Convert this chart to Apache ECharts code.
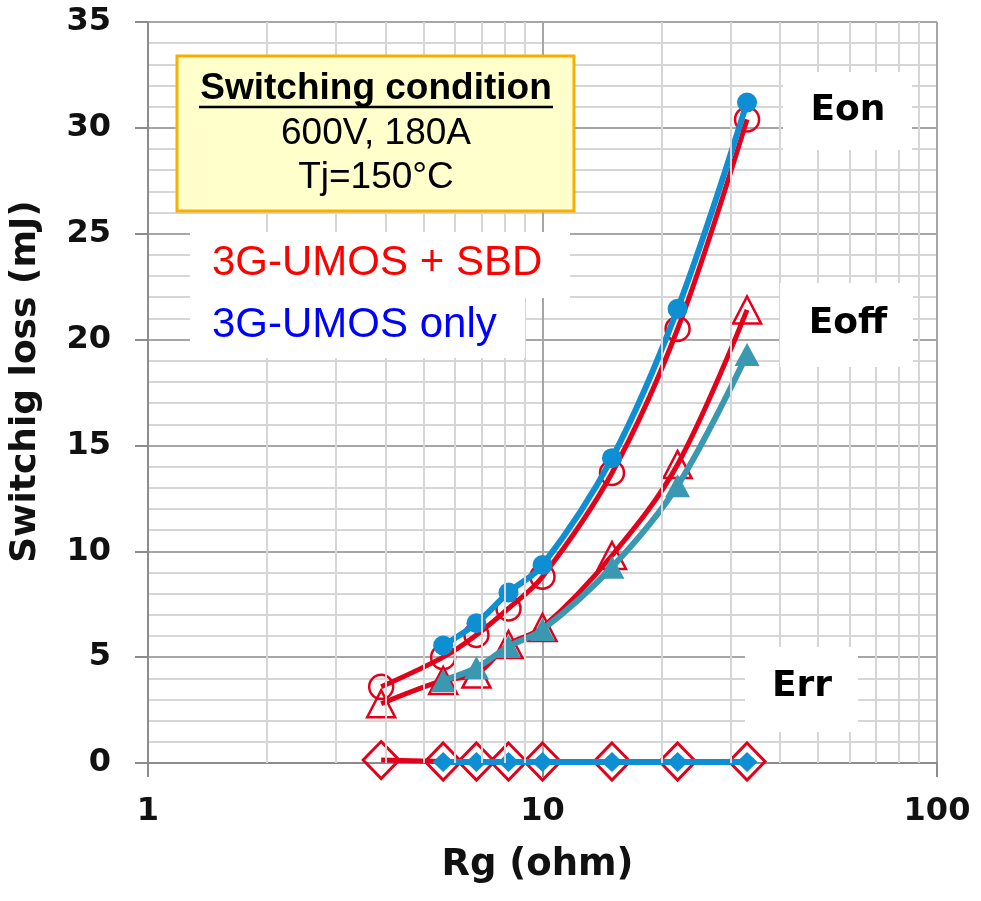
<!DOCTYPE html>
<html>
<head>
<meta charset="utf-8">
<script src="https://cdn.jsdelivr.net/npm/echarts@6/dist/echarts.min.js"></script>
<style>
html,body{margin:0;padding:0;background:#fff;}
#chart{width:981px;height:901px;}
</style>
</head>
<body>
<div id="chart"></div>
<script>
// ---- data ----
const rg = [3.9, 5.6, 6.8, 8.2, 10, 15, 22, 33];
const eonSbd   = [3.6, 5.0, 6.05, 7.3, 8.8, 13.7, 20.5, 30.4];
const eonOnly  = [null, 5.55, 6.6, 8.05, 9.35, 14.4, 21.45, 31.2];
const eoffSbd  = [2.8, 3.9, 4.2, 5.6, 6.4, 9.8, 14.1, 21.4];
const eoffOnly = [null, 3.9, 4.5, 5.5, 6.3, 9.25, 13.1, 19.3];
const errSbd   = [0.14, 0.07, 0.07, 0.07, 0.07, 0.07, 0.07, 0.07];
const errOnly  = [null, 0.05, 0.05, 0.05, 0.05, 0.05, 0.05, 0.05];
const xTicks = [1, 10, 100];
const minorX = [2, 3, 4, 5, 6, 7, 8, 9, 20, 30, 40, 50, 60, 70, 80, 90];
const yTicks = [0, 5, 10, 15, 20, 25, 30, 35];

const RED = '#e3001b';
const BLUE = '#0e8fd3';
const TEAL = '#3b98b1';

function pairs(vals) {
  const out = [];
  rg.forEach((x, i) => { if (vals[i] !== null) out.push([x, vals[i]]); });
  return out;
}

const chart = echarts.init(document.getElementById('chart'), null, {renderer: 'canvas'});

const hollow = (color, bw) => ({color: 'rgba(0,0,0,0)', borderColor: color, borderWidth: bw});

const option = {
  backgroundColor: '#fff',
  animation: false,
  grid: {left: 148, right: 44, top: 22, bottom: 138, containLabel: false, outerBoundsMode: 'none'},
  xAxis: {
    type: 'log', logBase: 10, min: xTicks[0], max: xTicks[xTicks.length - 1],
    name: 'Rg (ohm)', nameLocation: 'middle', nameGap: 84,
    nameTextStyle: {fontFamily: 'DejaVu Sans', fontWeight: 'bold', fontSize: 37, color: '#111', padding: [0, 10, 0, 0]},
    axisLine: {show: true, lineStyle: {color: '#8c8c8c', width: 2}},
    axisTick: {show: true, length: 14, inside: false, lineStyle: {color: '#8c8c8c', width: 2}},
    axisLabel: {
      margin: 33, fontFamily: 'DejaVu Sans', fontWeight: 'bold', fontSize: 32, color: '#111',
      formatter: v => (xTicks.indexOf(Math.round(v)) >= 0 ? String(Math.round(v)) : '')
    },
    splitLine: {show: true, lineStyle: {color: '#a6a6a6', width: 2}}
  },
  yAxis: {
    type: 'value', min: yTicks[0], max: yTicks[yTicks.length - 1], interval: 5,
    name: 'Switchig loss (mJ)', nameLocation: 'middle', nameGap: 104, nameRotate: 90,
    nameTextStyle: {fontFamily: 'DejaVu Sans', fontWeight: 'bold', fontSize: 36, color: '#111', padding: [0, 0, 0, 22]},
    axisLine: {show: true, lineStyle: {color: '#8c8c8c', width: 2}},
    axisTick: {show: true, length: 13, inside: false, lineStyle: {color: '#8c8c8c', width: 2}},
    axisLabel: {margin: 37, fontFamily: 'DejaVu Sans', fontWeight: 'bold', fontSize: 32, color: '#111'},
    splitLine: {show: true, lineStyle: {color: '#a6a6a6', width: 2}},
    minorTick: {show: false, splitNumber: 5},
    minorSplitLine: {show: true, lineStyle: {color: '#d6d6d6', width: 2}}
  },
  series: [
    {
      type: 'line', data: [], z: 1, silent: true, symbol: 'none',
      markLine: {
        silent: true, symbol: 'none', label: {show: false}, animation: false,
        lineStyle: {color: '#d6d6d6', width: 2, type: 'solid'},
        emphasis: {disabled: true},
        data: minorX.map(v => ({xAxis: v}))
      }
    },
    // Err
    {
      name: 'Err SBD', type: 'line', data: pairs(errSbd), z: 3,
      lineStyle: {color: RED, width: 5}, symbol: 'diamond', symbolSize: [36, 37],
      itemStyle: hollow(RED, 3)
    },
    {
      name: 'Err only', type: 'line', data: pairs(errOnly), z: 4,
      lineStyle: {color: BLUE, width: 6}, symbol: 'diamond', symbolSize: [21, 20],
      itemStyle: {color: BLUE}
    },
    // Eoff
    {
      name: 'Eoff SBD', type: 'line', data: pairs(eoffSbd), z: 3, smooth: 0.35,
      lineStyle: {color: RED, width: 5}, symbol: 'triangle', symbolSize: [28, 27],
      itemStyle: hollow(RED, 2.5)
    },
    {
      name: 'Eoff only', type: 'line', data: pairs(eoffOnly), z: 4, smooth: 0.35,
      lineStyle: {color: TEAL, width: 6}, symbol: 'triangle', symbolSize: [25, 23],
      itemStyle: {color: TEAL}
    },
    // Eon
    {
      name: 'Eon SBD', type: 'line', data: pairs(eonSbd), z: 3, smooth: 0.35,
      lineStyle: {color: RED, width: 5}, symbol: 'circle', symbolSize: 24,
      itemStyle: hollow(RED, 2.5)
    },
    {
      name: 'Eon only', type: 'line', data: pairs(eonOnly), z: 4, smooth: 0.35,
      lineStyle: {color: BLUE, width: 6}, symbol: 'circle', symbolSize: 20,
      itemStyle: {color: BLUE}
    }
  ],
  graphic: [
    // switching condition box
    {type: 'rect', z: 20, shape: {x: 177, y: 56, width: 397, height: 155},
     style: {fill: '#ffffcc', stroke: '#f5b000', lineWidth: 3}},
    {type: 'text', z: 21, x: 376, y: 89,
     style: {text: 'Switching condition', fill: '#000', font: 'bold 37px "Liberation Sans", Arial, sans-serif',
             textAlign: 'center', textVerticalAlign: 'middle', align: 'center', verticalAlign: 'middle'}},
    {type: 'line', z: 21, shape: {x1: 199, y1: 107, x2: 553, y2: 107}, style: {stroke: '#000', lineWidth: 2.5}},
    {type: 'text', z: 21, x: 376, y: 134,
     style: {text: '600V, 180A', fill: '#000', font: '37px "Liberation Sans", Arial, sans-serif',
             textAlign: 'center', textVerticalAlign: 'middle', align: 'center', verticalAlign: 'middle'}},
    {type: 'text', z: 21, x: 376, y: 178,
     style: {text: 'Tj=150°C', fill: '#000', font: '37px "Liberation Sans", Arial, sans-serif',
             textAlign: 'center', textVerticalAlign: 'middle', align: 'center', verticalAlign: 'middle'}},
    // series legend boxes
    {type: 'rect', z: 20, shape: {x: 190, y: 232, width: 380, height: 66}, style: {fill: '#fff'}},
    {type: 'rect', z: 20, shape: {x: 190, y: 298, width: 335, height: 60}, style: {fill: '#fff'}},
    {type: 'text', z: 21, x: 212, y: 263,
     style: {text: '3G-UMOS + SBD', fill: '#ff0000', font: '42px "Liberation Sans", Arial, sans-serif',
             textAlign: 'left', textVerticalAlign: 'middle', align: 'left', verticalAlign: 'middle'}},
    {type: 'text', z: 21, x: 212, y: 325,
     style: {text: '3G-UMOS only', fill: '#0000ff', font: '42px "Liberation Sans", Arial, sans-serif',
             textAlign: 'left', textVerticalAlign: 'middle', align: 'left', verticalAlign: 'middle'}},
    // curve labels
    {type: 'rect', z: 20, shape: {x: 783, y: 72, width: 129, height: 78}, style: {fill: '#fff'}},
    {type: 'text', z: 21, x: 848, y: 111,
     style: {text: 'Eon', fill: '#000', font: 'bold 36px "DejaVu Sans", sans-serif',
             textAlign: 'center', textVerticalAlign: 'middle', align: 'center', verticalAlign: 'middle'}},
    {type: 'rect', z: 20, shape: {x: 780, y: 283, width: 133, height: 84}, style: {fill: '#fff'}},
    {type: 'text', z: 21, x: 848, y: 324,
     style: {text: 'Eoff', fill: '#000', font: 'bold 36px "DejaVu Sans", sans-serif',
             textAlign: 'center', textVerticalAlign: 'middle', align: 'center', verticalAlign: 'middle'}},
    {type: 'rect', z: 20, shape: {x: 745, y: 647, width: 113, height: 85}, style: {fill: '#fff'}},
    {type: 'text', z: 21, x: 802, y: 687,
     style: {text: 'Err', fill: '#000', font: 'bold 36px "DejaVu Sans", sans-serif',
             textAlign: 'center', textVerticalAlign: 'middle', align: 'center', verticalAlign: 'middle'}}
  ]
};

chart.setOption(option);
</script>
</body>
</html>
